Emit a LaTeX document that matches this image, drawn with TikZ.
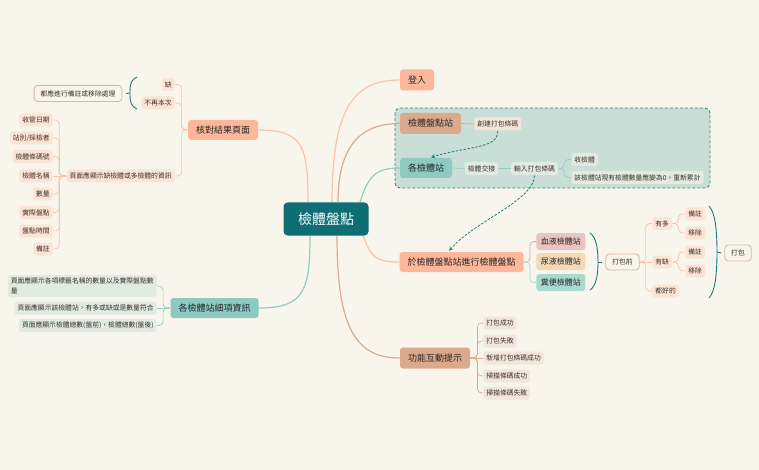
\documentclass[tikz,border=0pt]{standalone}
\usepackage[dvipsnames]{xcolor}
\usepackage{fontspec}
\setmainfont{Noto Sans CJK TC}
\usetikzlibrary{positioning}

\definecolor{bgc}{HTML}{F8F6EC}
\definecolor{rootc}{HTML}{0E6E74}
\definecolor{salmon}{HTML}{FDB89B}
\definecolor{salmonln}{HTML}{FCC2A6}
\definecolor{tanc}{HTML}{DBA98B}
\definecolor{tanln}{HTML}{D9AC90}
\definecolor{tealc}{HTML}{8CCAC2}
\definecolor{tealln}{HTML}{8FCDC5}
\definecolor{peach}{HTML}{FBE4D5}
\definecolor{mint}{HTML}{E1EBE2}
\definecolor{sand}{HTML}{F2E6DA}
\definecolor{regionc}{HTML}{C9DED6}
\definecolor{darkteal}{HTML}{1F7A80}
\definecolor{rimc}{HTML}{D9B69C}
\definecolor{txt}{HTML}{3E3029}
\definecolor{blood}{HTML}{E9C4C0}
\definecolor{urine}{HTML}{F3D9B5}
\definecolor{stool}{HTML}{A9D9CF}
\definecolor{greyln}{HTML}{C2B2A2}

\begin{document}
\begin{tikzpicture}[-,>=stealth,x=1pt,y=-1pt,thick,
    root/.style={fill=rootc,text=white,rounded corners=4pt,font=\fontsize{14}{16}\selectfont,inner xsep=14.5pt,inner ysep=0pt,minimum height=33pt},
    topic/.style={rounded corners=3pt,text=black!85,font=\fontsize{9}{11}\selectfont,inner xsep=8pt,inner ysep=0pt,minimum height=20pt},
    sub/.style={rounded corners=3pt,text=black!85,font=\fontsize{8}{10}\selectfont,inner xsep=4.5pt,inner ysep=0pt,minimum height=17pt},
    leaf/.style={rounded corners=2.5pt,text=txt,font=\fontsize{6.8}{8}\selectfont,inner xsep=3pt,inner ysep=0pt,minimum height=13pt},
    tag/.style={leaf,draw=rimc,line width=0.8pt,fill=bgc,rounded corners=3.5pt,minimum height=16pt,inner xsep=6.5pt},
    branch/.style={line width=1.2pt},
    twig/.style={line width=0.7pt,rounded corners=4pt},
    brace/.style={draw=darkteal,line width=0.9pt},
    link/.style={->,darkteal,line width=0.8pt,dash pattern=on 2.5pt off 1.5pt,shorten >=1pt}]

    \fill[bgc] (0,0) rectangle (759,470);
    % the station group
    \draw[darkteal!90,fill=regionc,line width=0.9pt,rounded corners=5pt,dash pattern=on 3pt off 2pt] (395,108) rectangle (710,188);

    \node[root] (0) at (326,219) {檢體盤點};

    % left, top
    \node[topic, fill=salmon] (1) at (223,130) {核對結果頁面};
    \node[leaf, fill=peach, anchor=east] (11) at (175,84.5) {缺};
    \node[leaf, fill=peach, anchor=east] (12) at (175,103) {不再本次};
    \node[leaf, fill=peach, anchor=east] (13) at (175,176) {頁面應顯示缺檢體或多檢體的資訊};
    \node[tag] (10) at (78,93.5) {都應進行備註或移除處理};
    \node[leaf, fill=peach, anchor=east] (131) at (53,120) {收管日期};
    \node[leaf, fill=peach, anchor=east] (132) at (53,138) {站別/採檢者};
    \node[leaf, fill=peach, anchor=east] (133) at (53,156.5) {檢體條碼號};
    \node[leaf, fill=peach, anchor=east] (134) at (53,176) {檢體名稱};
    \node[leaf, fill=peach, anchor=east] (135) at (53,194) {數量};
    \node[leaf, fill=peach, anchor=east] (136) at (53,212.5) {實際盤點};
    \node[leaf, fill=peach, anchor=east] (137) at (53,231) {盤點時間};
    \node[leaf, fill=peach, anchor=east] (138) at (53,249) {備註};

    % left, bottom
    \node[topic, fill=tealc] (2) at (214.5,308) {各檢體站細項資訊};
    \node[leaf, fill=mint, anchor=east, align=left, minimum height=22pt, font=\fontsize{6.8}{9.5}\selectfont] (21) at (157,286) {頁面應顯示各項標籤名稱的數量以及實際盤點數\\量};
    \node[leaf, fill=mint, anchor=east] (22) at (157,308) {頁面應顯示該檢體站，有多或缺或是數量符合};
    \node[leaf, fill=mint, anchor=east] (23) at (157,325.5) {頁面應顯示檢體總數(盤前)，檢體總數(盤後)};

    % right
    \node[topic, fill=salmon, minimum height=21pt] (3) at (417,80) {登入};

    \node[topic, fill=tanc, minimum height=21pt] (4) at (430.5,123.5) {檢體盤點站};
    \node[leaf, fill=sand, anchor=west] (41) at (474,124) {創建打包條碼};

    \node[topic, fill=tealc] (5) at (426,168) {各檢體站};
    \node[leaf, fill=mint] (51) at (481.5,168.5) {檢體交接};
    \node[leaf, fill=mint] (52) at (534.5,168.5) {輸入打包條碼};
    \node[leaf, fill=mint, anchor=west] (521) at (571,159.5) {收檢體};
    \node[leaf, fill=mint, anchor=west] (522) at (571,177.5) {該檢體站現有檢體數量應變為0，重新累計};

    \node[topic, fill=salmon] (6) at (461.5,262) {於檢體盤點站進行檢體盤點};
    \node[sub, fill=blood, anchor=west] (61) at (536,241.5) {血液檢體站};
    \node[sub, fill=urine, anchor=west] (62) at (536,261.5) {尿液檢體站};
    \node[sub, fill=stool, anchor=west] (63) at (536,282.5) {糞便檢體站};
    \node[tag] (60) at (622.5,262) {打包前};
    \node[leaf, fill=peach, anchor=west] (601) at (652,223.5) {有多};
    \node[leaf, fill=peach, anchor=west] (602) at (652,262) {有缺};
    \node[leaf, fill=peach, anchor=west] (603) at (652,291) {都好的};
    \node[leaf, fill=peach, anchor=west] (6011) at (685,214) {備註};
    \node[leaf, fill=peach, anchor=west] (6012) at (685,233) {移除};
    \node[leaf, fill=peach, anchor=west] (6021) at (685,252) {備註};
    \node[leaf, fill=peach, anchor=west] (6022) at (685,271) {移除};
    \node[tag] (600) at (738,253) {打包};

    \node[topic, fill=tanc, minimum height=21pt] (7) at (435,358) {功能互動提示};
    \node[leaf, fill=sand, anchor=west] (71) at (483,323) {打包成功};
    \node[leaf, fill=sand, anchor=west] (72) at (483,341) {打包失敗};
    \node[leaf, fill=sand, anchor=west] (73) at (483,358) {新增打包條碼成功};
    \node[leaf, fill=sand, anchor=west] (74) at (483,376) {掃描條碼成功};
    \node[leaf, fill=sand, anchor=west] (75) at (483,393) {掃描條碼失敗};

    \coordinate (b1t) at (137,77);
    \coordinate (b1m) at (130,93);
    \coordinate (b1b) at (137,109);
    \coordinate (b2t) at (590,233);
    \coordinate (b2m) at (598,262);
    \coordinate (b2b) at (590,290);
    \coordinate (b3t) at (709,206);
    \coordinate (b3m) at (717,252);
    \coordinate (b3b) at (709,298);

    % main branches
    \draw[branch, salmonln] ([xshift=-18pt]0.north) .. controls +(0,-55) and +(45,0) .. (1.east);
    \draw[branch, tealln] ([xshift=-16pt]0.south) .. controls +(0,55) and +(45,0) .. (2.east);
    \draw[branch, salmonln] ([xshift=6pt]0.north) .. controls +(0,-95) and +(-45,0) .. (3.west);
    \draw[branch, tanln] ([xshift=12pt]0.north) .. controls +(0,-55) and +(-40,0) .. (4.west);
    \draw[branch, tealln] ([xshift=34pt]0.north) .. controls +(8,-25) and +(-25,0) .. (5.west);
    \draw[branch, salmonln] ([xshift=37pt]0.south) .. controls +(8,20) and +(-25,0) .. (6.west);
    \draw[branch, tanln] ([xshift=11pt]0.south) .. controls +(0,90) and +(-45,0) .. (7.west);

    % sub branches
    \draw[twig, salmonln] (1.west) -- ++(-6,0) |- (11.east);
    \draw[twig, salmonln] (1.west) -- ++(-6,0) |- (12.east);
    \draw[twig, salmonln] (1.west) -- ++(-6,0) |- (13.east);
    \draw[twig, salmonln] (13.west) -- ++(-7,0) |- (131.east);
    \draw[twig, salmonln] (13.west) -- ++(-7,0) |- (132.east);
    \draw[twig, salmonln] (13.west) -- ++(-7,0) |- (133.east);
    \draw[twig, salmonln] (13.west) -- (134.east);
    \draw[twig, salmonln] (13.west) -- ++(-7,0) |- (135.east);
    \draw[twig, salmonln] (13.west) -- ++(-7,0) |- (136.east);
    \draw[twig, salmonln] (13.west) -- ++(-7,0) |- (137.east);
    \draw[twig, salmonln] (13.west) -- ++(-7,0) |- (138.east);

    \draw[twig, tealln] (2.west) -- ++(-7,0) |- (21.east);
    \draw[twig, tealln] (2.west) -- (22.east);
    \draw[twig, tealln] (2.west) -- ++(-7,0) |- (23.east);

    \draw[twig, greyln] (4.east) -- (41.west);
    \draw[twig, tealln] (5.east) -- (51.west);
    \draw[twig, tealln] (51.east) -- (52.west);
    \draw[twig, tealln] (52.east) -- ++(6,0) |- (521.west);
    \draw[twig, tealln] (52.east) -- ++(6,0) |- (522.west);

    \draw[twig, blood!85!black!90] (6.east) -- ++(6,0) |- (61.west);
    \draw[twig, stool!40] (6.east) -- (62.west);
    \draw[twig, stool] (6.east) -- ++(6,0) |- (63.west);
    \draw[twig, salmonln] (60.east) -- ++(6,0) |- (601.west);
    \draw[twig, salmonln] (60.east) -- (602.west);
    \draw[twig, salmonln] (60.east) -- ++(6,0) |- (603.west);
    \draw[twig, salmonln] (601.east) -- ++(6,0) |- (6011.west);
    \draw[twig, salmonln] (601.east) -- ++(6,0) |- (6012.west);
    \draw[twig, salmonln] (602.east) -- ++(6,0) |- (6021.west);
    \draw[twig, salmonln] (602.east) -- ++(6,0) |- (6022.west);

    \draw[twig, tanln] (7.east) -- ++(7,0) |- (71.west);
    \draw[twig, tanln] (7.east) -- ++(7,0) |- (72.west);
    \draw[twig, tanln] (7.east) -- (73.west);
    \draw[twig, tanln] (7.east) -- ++(7,0) |- (74.west);
    \draw[twig, tanln] (7.east) -- ++(7,0) |- (75.west);

    % brackets
    \draw[brace] (b1t) .. controls +(-6,3) and +(0,-10) .. (b1m) .. controls +(0,10) and +(-6,-3) .. (b1b);
    \draw[brace] (b1m) -- ([xshift=4pt]10.east);
    \draw[brace] (b2t) .. controls +(6,4) and +(0,-14) .. (b2m) .. controls +(0,14) and +(6,-4) .. (b2b);
    \draw[brace] (b2m) -- ([xshift=-3pt]60.west);
    \draw[brace] (b3t) .. controls +(6,6) and +(0,-22) .. (b3m) .. controls +(0,22) and +(6,-6) .. (b3b);
    \draw[brace] (b3m) -- ([xshift=-3pt]600.west);

    % dashed links
    \draw[link] (41.south) .. controls +(0,18) and +(40,-12) .. ([xshift=4pt]5.north);
    \draw[link] (52.south) .. controls +(0,25) and +(25,-30) .. ([xshift=-13pt]6.north);
\end{tikzpicture}
\end{document}
